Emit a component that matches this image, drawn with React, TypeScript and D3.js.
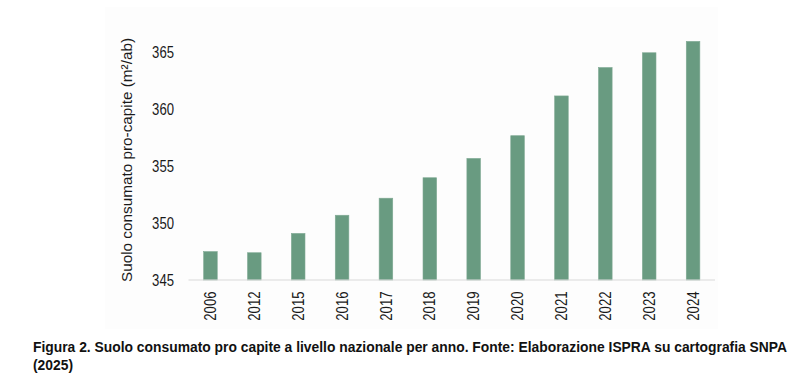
import React, { useEffect, useRef, useState } from "react";
import * as d3 from "d3";

const years = ["2006", "2012", "2015", "2016", "2017", "2018", "2019", "2020", "2021", "2022", "2023", "2024"];
const values = [347.5, 347.4, 349.1, 350.7, 352.2, 354.0, 355.7, 357.7, 361.2, 363.7, 365.0, 366.0];
const yTicks = [345, 350, 355, 360, 365];
const yTitle = "Suolo consumato pro-capite (m²/ab)";
const captionLine1 = "Figura 2. Suolo consumato pro capite a livello nazionale per anno. Fonte: Elaborazione ISPRA su cartografia SNPA";
const captionLine2 = "(2025)";

const W = 802;
const H = 392;
const plot = { left: 188.5, right: 715, top: 41.4, bottom: 280 };
const FONT = "'Liberation Sans', Arial, sans-serif";
const NARROW = 0.82;

export default function App() {
  const x = d3.scaleBand<string>().domain(years).range([plot.left, plot.right]).paddingInner(0.69).paddingOuter(0.345);
  const y = d3.scaleLinear().domain([345, 366]).range([plot.bottom, plot.top]);
  const capRef = useRef<SVGTextElement>(null);
  const [capScale, setCapScale] = useState(NARROW);

  useEffect(() => {
    if (capRef.current) {
      const len = capRef.current.getComputedTextLength();
      if (len > 0) setCapScale(754 / len);
    }
  }, []);

  return (
    <svg width={W} height={H} style={{ position: "absolute", left: 0, top: 0, background: "#fff" }} fontFamily={FONT}>
      <rect x={105} y={7} width={613} height={322} fill="#fdfdfd" />
      {years.map((yr, i) => (
        <rect key={yr} x={x(yr)} y={y(values[i])} width={x.bandwidth()} height={y(345) - y(values[i])} fill="#699b81" stroke="#7fa993" strokeWidth={0.6} />
      ))}
      <line x1={plot.left} x2={plot.right} y1={y(345)} y2={y(345)} stroke="#d9d9d9" strokeWidth={1.2} />
      {yTicks.map((t) => (
        <text key={t} transform={`translate(174,${y(t)}) scale(${NARROW},1)`} dy="0.35em" textAnchor="end" fontSize={16} fill="#1a1a1a">{t}</text>
      ))}
      {years.map((yr) => (
        <text key={yr} transform={`translate(${(x(yr) ?? 0) + x.bandwidth() / 2},${291.5}) rotate(-90) scale(${NARROW},1)`} dy="0.35em" textAnchor="end" fontSize={16} fill="#1a1a1a">{yr}</text>
      ))}
      <text transform={`translate(126.5,160) rotate(-90)`} dy="0.35em" textAnchor="middle" fontSize={15.3} fill="#1a1a1a">{yTitle}</text>
      <text ref={capRef} transform={`translate(33,352) scale(${capScale},1)`} fontSize={15.5} fontWeight="bold" fill="#111">{captionLine1}</text>
      <text transform={`translate(33,369.5) scale(${capScale},1)`} fontSize={15.5} fontWeight="bold" fill="#111">{captionLine2}</text>
    </svg>
  );
}
